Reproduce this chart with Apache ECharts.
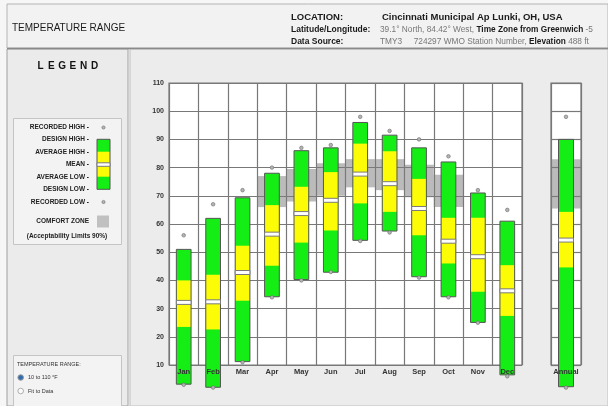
<!DOCTYPE html>
<html><head><meta charset="utf-8">
<script src="https://cdn.jsdelivr.net/npm/echarts@6/dist/echarts.min.js"></script>
<style>html,body{margin:0;padding:0;background:#f4f4f4}#c{width:608px;height:406px}</style>
</head><body><div id="c"></div>
<script>
// ---- data ----
const months = ['Jan','Feb','Mar','Apr','May','Jun','Jul','Aug','Sep','Oct','Nov','Dec'];
const yTicks = [10,20,30,40,50,60,70,80,90,100,110];
const recordedHigh = [56, 67, 72, 80, 87, 88, 98, 93, 90, 84, 72, 65];
const designHigh   = [51, 62, 69.3, 78, 86, 87, 96, 91.5, 87, 82, 71, 61];
const averageHigh  = [40, 42, 52.3, 66.7, 73.2, 78.4, 88.5, 85.8, 76, 62.2, 62.2, 45.4];
const meanTemp     = [32.2, 32.4, 42.8, 56.4, 63.7, 68.4, 77.7, 74.3, 65.5, 53.9, 48.4, 36.3];
const averageLow   = [23.5, 22.6, 32.8, 45.2, 53.4, 57.7, 67.3, 64.3, 56, 46, 36, 27.4];
const designLow    = [3.2, 2.1, 11.2, 34.2, 40.3, 42.9, 54.2, 57.5, 41.3, 34.2, 25.1, 6.5];
const recordedLow  = [3, 2, 11, 34, 40, 43, 54, 57, 41, 34, 25, 6];
const comfortLow   = [null, null, null, 66, 68, 70, 73, 72, 69.5, 66, null, null];
const comfortHigh  = [null, null, null, 77, 79.5, 81.5, 83, 83, 81, 77.5, null, null];
const annualCat = ['Annual'];
const annualValues = [98, 90, 64.3, 54.3, 44.6, 2.3, 2];   // rec hi, des hi, avg hi, mean, avg lo, des lo, rec lo
const annualComfort = [65.5, 83];

// ---- build series data ----
const barRows = months.map((m, i) => [i, recordedHigh[i], designHigh[i], averageHigh[i], meanTemp[i], averageLow[i], designLow[i], recordedLow[i]]);
const comfortRows = [];
months.forEach((m, i) => { if (comfortLow[i] != null) comfortRows.push([i, comfortLow[i], comfortHigh[i]]); });
const annualRows = [[0].concat(annualValues)];
const annualComfortRows = [[0, annualComfort[0], annualComfort[1]]];

const GREEN = '#14ee14', YELLOW = '#fcfc06', OUT = '#555555', GRID = '#787878';
const FONT = "'Liberation Sans', Arial, sans-serif";

function barRender(params, api) {
  const i = api.value(0);
  const w = api.size([1, 0])[0] * 0.5;
  const cx = api.coord([i, 0])[0];
  const x = cx - w / 2;
  const y = v => api.coord([i, v])[1];
  const dh = y(api.value(2)), ah = y(api.value(3)), mn = y(api.value(4)), al = y(api.value(5)), dl = y(api.value(6));
  const rh = y(api.value(1)), rl = y(api.value(7));
  return {
    type: 'group',
    children: [
      { type: 'rect', shape: { x: x, y: dh, width: w, height: dl - dh }, style: { fill: GREEN } },
      { type: 'rect', shape: { x: x, y: ah, width: w, height: al - ah }, style: { fill: YELLOW } },
      { type: 'rect', shape: { x: x, y: dh, width: w, height: dl - dh }, style: { fill: null, stroke: OUT, lineWidth: 1 } },
      { type: 'rect', shape: { x: x, y: mn - 2, width: w, height: 4 }, style: { fill: '#ffffff', stroke: '#7a7a7a', lineWidth: 1 } },
      { type: 'circle', shape: { cx: cx, cy: rh, r: 1.8 }, style: { fill: '#b4b4b4', stroke: '#6a6a6a', lineWidth: 0.6 } },
      { type: 'circle', shape: { cx: cx, cy: rl, r: 1.8 }, style: { fill: '#b4b4b4', stroke: '#6a6a6a', lineWidth: 0.6 } }
    ]
  };
}
function comfortRender(params, api) {
  const i = api.value(0);
  const w = api.size([1, 0])[0];
  const lo = api.coord([i, api.value(1)]), hi = api.coord([i, api.value(2)]);
  return { type: 'rect', shape: { x: lo[0] - w / 2, y: hi[1], width: w, height: lo[1] - hi[1] }, style: { fill: 'rgba(125,125,125,0.52)' } };
}

const catAxisBase = (grid, data) => ([
  { gridIndex: grid, type: 'category', data: data, axisLine: { show: false }, axisTick: { show: false }, axisLabel: { show: false },
    splitLine: { show: true, interval: 0, lineStyle: { color: GRID, width: 1.2 } } },
  { gridIndex: grid, type: 'category', data: data, position: 'bottom', z: 10, axisLine: { show: false }, axisTick: { show: false },
    axisLabel: { interval: 0, margin: 3, fontSize: 7.5, fontWeight: 'bold', color: '#333', fontFamily: FONT }, splitLine: { show: false } }
]);
const valAxis = (grid, showLabel) => ({
  gridIndex: grid, type: 'value', min: yTicks[0], max: yTicks[yTicks.length - 1], interval: 10,
  axisLine: { show: false }, axisTick: { show: false },
  axisLabel: { show: showLabel, fontSize: 7, fontWeight: 'bold', color: '#333', margin: 5, fontFamily: FONT },
  splitLine: { show: true, lineStyle: { color: GRID, width: 1.2 } }
});

const txt = (x, y, text, o) => Object.assign({ type: 'text', x: x, y: y, z: 100,
  style: Object.assign({ text: text, fill: '#222', font: 'bold 6.5px ' + FONT, textAlign: 'left', textVerticalAlign: 'middle' }, o || {}) });

const legendLabels = ['RECORDED HIGH -', 'DESIGN HIGH -', 'AVERAGE HIGH -', 'MEAN -', 'AVERAGE LOW -', 'DESIGN LOW -', 'RECORDED LOW -'];
const legendY = [127, 139.5, 152, 164.5, 177, 189.5, 202];

const graphics = [
  // panels
  { type: 'rect', z: -5, shape: { x: 7, y: 4, width: 601, height: 44 }, style: { fill: '#f2f2f2', stroke: '#b4b4b4', lineWidth: 1 } },
  { type: 'rect', z: -5, shape: { x: 7, y: 49, width: 121, height: 357 }, style: { fill: '#ebebeb', stroke: '#a0a0a0', lineWidth: 1 } },
  { type: 'rect', z: -5, shape: { x: 130, y: 49, width: 478, height: 357 }, style: { fill: '#ececec', stroke: '#c0c0c0', lineWidth: 1 } },
  { type: 'line', z: -4, shape: { x1: 7, y1: 48.5, x2: 608, y2: 48.5 }, style: { stroke: '#8a8a8a', lineWidth: 1.5 } },
  // header
  txt(12, 28, 'TEMPERATURE RANGE', { font: '10px ' + FONT, fill: '#1a1a1a' }),
  txt(291, 17, 'LOCATION:', { font: 'bold 9.5px ' + FONT, fill: '#1a1a1a' }),
  txt(382, 17, 'Cincinnati Municipal Ap Lunki, OH, USA', { font: 'bold 9.5px ' + FONT, fill: '#1a1a1a' }),
  txt(291, 30, 'Latitude/Longitude:', { font: 'bold 8.5px ' + FONT, fill: '#1a1a1a' }),
  txt(291, 42, 'Data Source:', { font: 'bold 8.5px ' + FONT, fill: '#1a1a1a' }),
  txt(380, 30, '{g|39.1° North, 84.42° West, }{b|Time Zone from Greenwich }{g|-5}', {
    rich: { g: { font: '8.3px ' + FONT, fill: '#777' }, b: { font: 'bold 8.3px ' + FONT, fill: '#1a1a1a' } } }),
  txt(380, 42, '{g|TMY3     724297 WMO Station Number, }{b|Elevation }{g|488 ft}', {
    rich: { g: { font: '8.3px ' + FONT, fill: '#777' }, b: { font: 'bold 8.3px ' + FONT, fill: '#1a1a1a' } } }),
  // legend title
].concat('LEGEND'.split('').map((ch, k) => txt(40.5 + k * 10.8, 66, ch, { font: 'bold 10px ' + FONT, textAlign: 'center', fill: '#111' })))
.concat([
  { type: 'rect', z: -3, shape: { x: 13.5, y: 118.5, width: 108, height: 126 }, style: { fill: '#f3f3f3', stroke: '#c4c4c4', lineWidth: 1 } },
  // symbol bar
  { type: 'rect', z: 50, shape: { x: 97, y: 139.3, width: 13, height: 50 }, style: { fill: GREEN } },
  { type: 'rect', z: 51, shape: { x: 97, y: 151.7, width: 13, height: 25 }, style: { fill: YELLOW } },
  { type: 'rect', z: 52, shape: { x: 97, y: 139.3, width: 13, height: 50 }, style: { fill: null, stroke: OUT, lineWidth: 1 } },
  { type: 'rect', z: 53, shape: { x: 97, y: 162.8, width: 13, height: 3.5 }, style: { fill: '#fff', stroke: '#7a7a7a', lineWidth: 1 } },
  { type: 'circle', z: 53, shape: { cx: 103.5, cy: 127.5, r: 1.6 }, style: { fill: '#b4b4b4', stroke: '#6a6a6a', lineWidth: 0.6 } },
  { type: 'circle', z: 53, shape: { cx: 103.5, cy: 202, r: 1.6 }, style: { fill: '#b4b4b4', stroke: '#6a6a6a', lineWidth: 0.6 } },
  { type: 'rect', z: 53, shape: { x: 97, y: 215.5, width: 12, height: 12 }, style: { fill: '#c0c0c0' } }
])
.concat(legendLabels.map((t, k) => txt(89, legendY[k], t, { textAlign: 'right' })))
.concat([
  txt(89, 221.5, 'COMFORT ZONE', { textAlign: 'right' }),
  txt(67, 236, '(Acceptability Limits 90%)', { textAlign: 'center' }),
  // range box
  { type: 'rect', z: -3, shape: { x: 13.5, y: 355.5, width: 108, height: 52 }, style: { fill: '#f3f3f3', stroke: '#c4c4c4', lineWidth: 1 } },
  txt(17, 364, 'TEMPERATURE RANGE:', { font: '5.5px ' + FONT, fill: '#333' }),
  { type: 'circle', z: 60, shape: { cx: 20.7, cy: 377.5, r: 2.8 }, style: { fill: '#2f6db0', stroke: '#9a9a9a', lineWidth: 1 } },
  txt(28, 377.5, '10 to 110 °F', { font: '5.5px ' + FONT, fill: '#333' }),
  { type: 'circle', z: 60, shape: { cx: 20.7, cy: 391, r: 2.8 }, style: { fill: '#fafafa', stroke: '#b0b0b0', lineWidth: 1 } },
  txt(28, 391, 'Fit to Data', { font: '5.5px ' + FONT, fill: '#333' })
]);

const chart = echarts.init(document.getElementById('c'), null, { renderer: 'canvas' });
chart.setOption({
  animation: false,
  backgroundColor: '#f6f6f6',
  graphic: graphics,
  grid: [
    { left: 169, top: 83, width: 353, height: 282, show: true, backgroundColor: '#ffffff', borderColor: GRID, borderWidth: 1.2 },
    { left: 551, top: 83, width: 30, height: 282, show: true, backgroundColor: '#ffffff', borderColor: GRID, borderWidth: 1.2 }
  ],
  xAxis: catAxisBase(0, months).concat(catAxisBase(1, annualCat)),
  yAxis: [valAxis(0, true), valAxis(1, false)],
  series: [
    { type: 'custom', xAxisIndex: 0, yAxisIndex: 0, data: comfortRows, encode: { x: 0, y: [1, 2] }, renderItem: comfortRender, clip: false, silent: true },
    { type: 'custom', xAxisIndex: 0, yAxisIndex: 0, data: barRows, encode: { x: 0, y: [1, 2, 3, 4, 5, 6, 7] }, renderItem: barRender, clip: false, silent: true },
    { type: 'custom', xAxisIndex: 2, yAxisIndex: 1, data: annualComfortRows, encode: { x: 0, y: [1, 2] }, renderItem: comfortRender, clip: false, silent: true },
    { type: 'custom', xAxisIndex: 2, yAxisIndex: 1, data: annualRows, encode: { x: 0, y: [1, 2, 3, 4, 5, 6, 7] }, renderItem: barRender, clip: false, silent: true }
  ]
});
</script></body></html>
